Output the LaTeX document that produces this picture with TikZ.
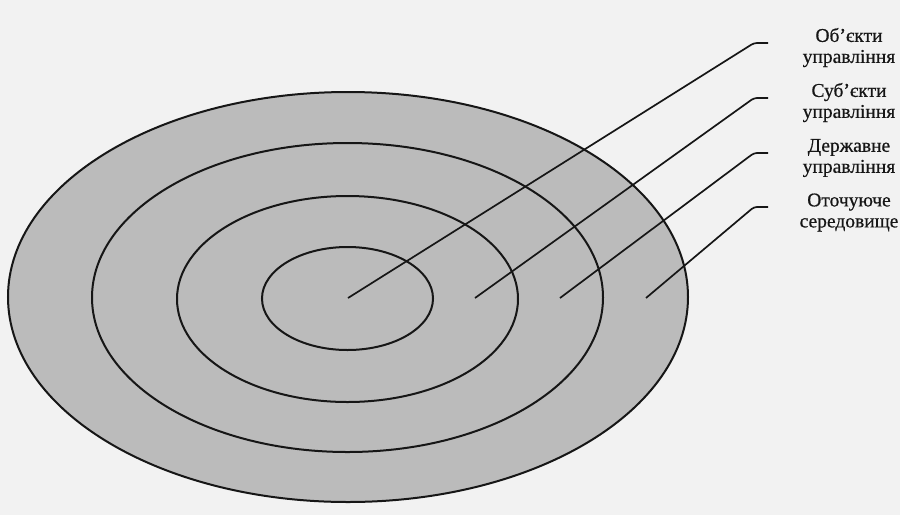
\documentclass[tikz,border=0pt]{standalone}
\usepackage{fontspec}
\setmainfont{Liberation Serif}[FakeBold=0.6]
\newfontfamily\lblfont{Liberation Serif}[FakeBold=0.6]
\definecolor{bgpaper}{HTML}{F2F2F2}
\definecolor{ringfill}{HTML}{BBBBBB}
\definecolor{inkline}{HTML}{161616}
\begin{document}
\begin{tikzpicture}[x=1pt,y=-1pt,
  ring/.style={draw=inkline,line width=2pt},
  leader/.style={draw=inkline,line width=1.7pt,rounded corners=3pt},
  lbl/.style={align=center,font=\lblfont\fontsize{19.5}{21}\selectfont,text=inkline,inner sep=0pt}]
\fill[bgpaper] (0,0) rectangle (900,515);
\useasboundingbox (0,0) rectangle (900,515);
% rings
\filldraw[ring,fill=ringfill] (348,297) ellipse [x radius=340pt, y radius=205pt];
\draw[ring] (347.5,297.5) ellipse [x radius=255.5pt, y radius=154.5pt];
\draw[ring] (347.5,299) ellipse [x radius=170.5pt, y radius=103pt];
\draw[ring] (347.5,298.5) ellipse [x radius=85.5pt, y radius=51.5pt];
% leader start points
\coordinate (s1) at (348,298);
\coordinate (s2) at (475,298);
\coordinate (s3) at (560,298);
\coordinate (s4) at (646,298);
% leader bends and ends
\coordinate (b1) at (754,43);  \coordinate (e1) at (768,43);
\coordinate (b2) at (754,98);  \coordinate (e2) at (768,98);
\coordinate (b3) at (754,153); \coordinate (e3) at (768,153);
\coordinate (b4) at (754,207); \coordinate (e4) at (768,207);
\draw[leader] (s1) -- (b1) -- (e1);
\draw[leader] (s2) -- (b2) -- (e2);
\draw[leader] (s3) -- (b3) -- (e3);
\draw[leader] (s4) -- (b4) -- (e4);
% labels
\node[lbl] (l1) at (849,47.5) {Об’єкти\\управління};
\node[lbl] (l2) at (849,102.5) {Суб’єкти\\управління};
\node[lbl] (l3) at (849,158) {Державне\\управління};
\node[lbl] (l4) at (849,212.5) {Оточуюче\\середовище};
\end{tikzpicture}
\end{document}
